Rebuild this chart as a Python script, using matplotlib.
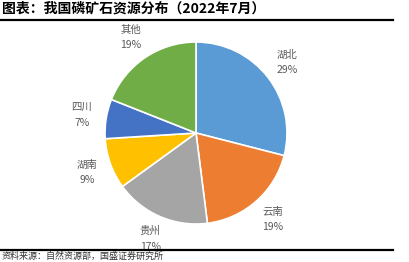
import matplotlib
matplotlib.use('Agg')
import matplotlib.pyplot as plt
from matplotlib.lines import Line2D

plt.rcParams['font.family'] = ['Noto Sans CJK SC', 'DejaVu Sans']

# 데이터
regions = ['湖北', '云南', '贵州', '湖南', '四川', '其他']
shares = [29, 19, 17, 9, 7, 19]
colors = ['#5B9BD5', '#ED7D31', '#A5A5A5', '#FFC000', '#4472C4', '#70AD47']
title = '图表：我国磷矿石资源分布（2022年7月）'
source = '资料来源：自然资源部，国盛证券研究所'

W, H = 410, 262
fig = plt.figure(figsize=(W / 100, H / 100), dpi=100)

# 파이 위치 (픽셀 기준: 중심 196,133 반지름 91)
cx, cy, r = 196, 133, 91
ax = fig.add_axes([(cx - r) / W, (H - cy - r) / H, 2 * r / W, 2 * r / H])
labels = [f'{n}\n{v}%' for n, v in zip(regions, shares)]
wedges, texts = ax.pie(shares, labels=labels, colors=colors, startangle=90,
                       counterclock=False, labeldistance=1.27,
                       wedgeprops=dict(edgecolor='white', linewidth=1.2),
                       textprops=dict(fontsize=7.5, color='#595959', linespacing=1.7))
for t in texts:
    t.set_ha('center')
    t.set_va('center')
ax.set_xlim(-1, 1)
ax.set_ylim(-1, 1)
ax.axis('off')

# 제목과 선
fig.text(2 / W, 1 - 9 / H, title, fontsize=10, fontweight='bold', va='center', ha='left')
fig.add_artist(Line2D([0, 393 / W], [1 - 20 / H, 1 - 20 / H], color='black', lw=1.6))
fig.add_artist(Line2D([0, 393 / W], [1 - 250 / H, 1 - 250 / H], color='black', lw=1.6))
fig.text(2 / W, 1 - 256 / H, source, fontsize=6.5, va='center', ha='left', color='#333333')

fig.savefig('out.png', dpi=100)
